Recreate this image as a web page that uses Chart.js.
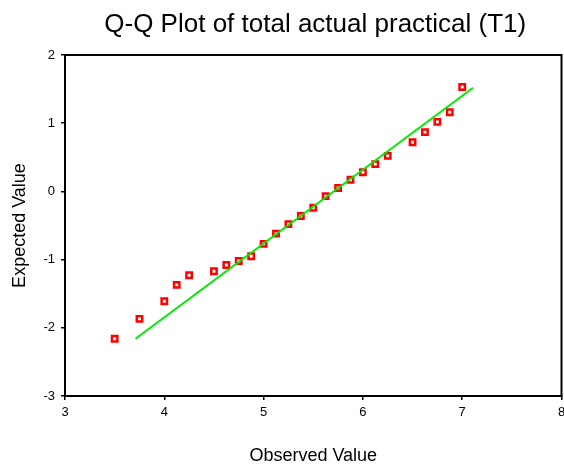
<!DOCTYPE html>
<html>
<head>
<meta charset="utf-8">
<script src="https://cdn.jsdelivr.net/npm/chart.js@4"></script>
<style>
  html, body { margin: 0; padding: 0; background: #fff; overflow: hidden; }
  #wrap { width: 568px; height: 469px; }
</style>
</head>
<body>
<div id="wrap"><canvas id="qq"></canvas></div>
<script>
// observed scores and their expected normal values
const observed = [3.5, 3.75, 4.0, 4.125, 4.25, 4.5, 4.625, 4.75, 4.875, 5.0, 5.125, 5.25, 5.375,
                  5.5, 5.625, 5.75, 5.875, 6.0, 6.125, 6.25, 6.5, 6.625, 6.75, 6.875, 7.0];
const expected = [-2.16, -1.87, -1.61, -1.37, -1.23, -1.17, -1.08, -1.02, -0.95, -0.77, -0.62, -0.48, -0.36,
                  -0.24, -0.07, 0.05, 0.17, 0.28, 0.40, 0.52, 0.72, 0.87, 1.02, 1.16, 1.53];

// reference line endpoints
const lineX = [3.71, 7.11];
const lineY = [-2.16, 1.52];

const xTicks = [3, 4, 5, 6, 7, 8];
const yTicks = [-3, -2, -1, 0, 1, 2];

const titleText = 'Q-Q Plot of total actual practical (T1)';
const font = 'Arial, "Liberation Sans", sans-serif';

// black box round the plot area, title centred over it
const frame = {
    id: 'frame',
    afterDraw(chart) {
        const a = chart.chartArea;
        const ctx = chart.ctx;
        ctx.save();
        ctx.strokeStyle = '#000';
        ctx.lineWidth = 2;
        ctx.strokeRect(a.left, a.top, a.right - a.left, a.bottom - a.top);
        ctx.fillStyle = '#000';
        ctx.font = '26px ' + font;
        ctx.textAlign = 'center';
        ctx.textBaseline = 'alphabetic';
        ctx.fillText(titleText, (a.left + a.right) / 2 + 2, 32);
        ctx.restore();
    }
};

const ctx = document.getElementById('qq').getContext('2d');

new Chart(ctx, {
    type: 'scatter',
    data: {
        datasets: [{
            data: lineX.map((x, i) => ({x: x, y: lineY[i]})),
            showLine: true,
            borderColor: 'rgb(0, 235, 0)',
            borderWidth: 2,
            pointRadius: 0
        }, {
            data: observed.map((x, i) => ({x: x, y: expected[i]})),
            pointStyle: 'rect',
            pointRadius: 3.8,
            borderWidth: 2.5,
            borderColor: '#ff0000',
            backgroundColor: '#ffffff'
        }]
    },
    options: {
        responsive: true,
        maintainAspectRatio: false,
        animation: false,
        layout: { padding: { top: 55, right: 0, bottom: 0, left: 0 } },
        plugins: {
            legend: { display: false },
            tooltip: { enabled: false },
            title: { display: false }
        },
        scales: {
            x: {
                type: 'linear',
                min: 3,
                max: 8,
                afterFit(scale) {
                    scale.height = 73;
                    scale.paddingLeft = 0;
                    scale.paddingRight = 0;
                },
                afterBuildTicks(scale) { scale.ticks = xTicks.map(v => ({value: v})); },
                grid: { drawOnChartArea: false, tickLength: 4, color: '#000', lineWidth: 1.5 },
                border: { color: '#000', width: 2 },
                ticks: { color: '#000', padding: 5, font: { family: font, size: 13 } },
                title: {
                    display: true,
                    text: 'Observed Value',
                    color: '#000',
                    font: { family: font, size: 18 },
                    padding: { top: 4, bottom: 2 }
                }
            },
            y: {
                type: 'linear',
                min: -3,
                max: 2,
                afterFit(scale) {
                    scale.width = 65;
                    scale.paddingTop = 0;
                    scale.paddingBottom = 0;
                },
                afterBuildTicks(scale) { scale.ticks = yTicks.map(v => ({value: v})); },
                grid: { drawOnChartArea: false, tickLength: 4, color: '#000', lineWidth: 1.5 },
                border: { color: '#000', width: 2 },
                ticks: { color: '#000', padding: 6, font: { family: font, size: 13 } },
                title: {
                    display: true,
                    text: 'Expected Value',
                    color: '#000',
                    font: { family: font, size: 18 },
                    padding: { top: 9, bottom: 4 }
                }
            }
        }
    },
    plugins: [frame]
});
</script>
</body>
</html>
